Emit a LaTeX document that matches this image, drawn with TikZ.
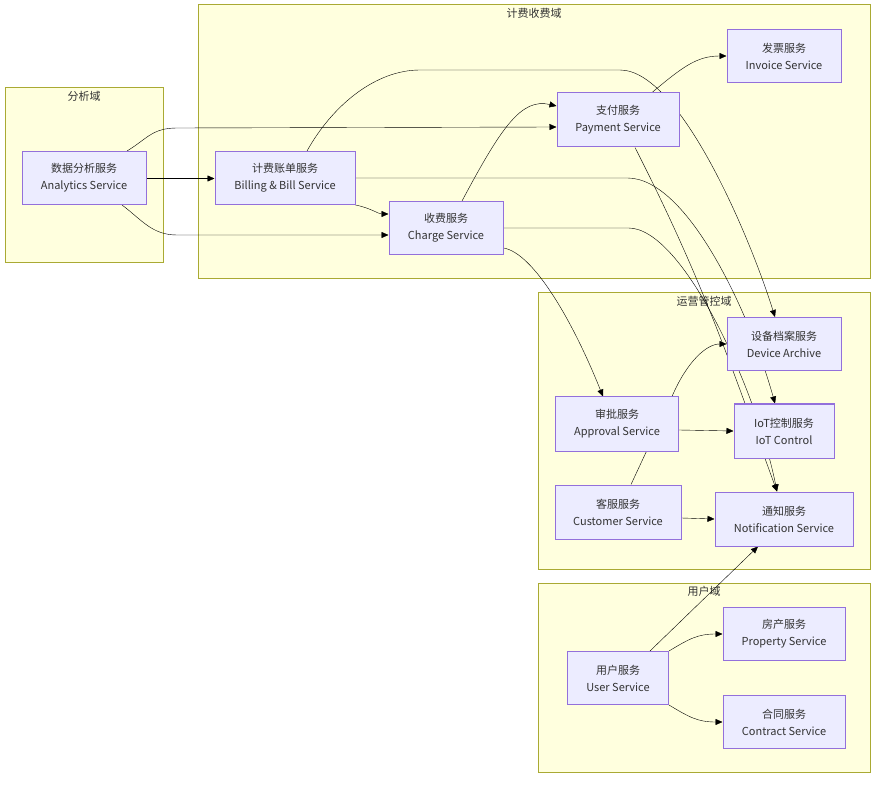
\documentclass[tikz,border=0pt]{standalone}
\usepackage{fontspec}
\setmainfont{Noto Sans CJK SC}
\usetikzlibrary{arrows.meta}
\definecolor{node_fill}{RGB}{236,236,255}
\definecolor{node_edge}{RGB}{147,112,219}
\definecolor{dom_fill}{RGB}{255,255,222}
\definecolor{dom_edge}{RGB}{170,170,51}
\definecolor{line_gray}{RGB}{51,51,51}
\pgfdeclarelayer{background}
\pgfdeclarelayer{edgelayer}
\pgfsetlayers{background,edgelayer,main}

\begin{document}
\begin{tikzpicture}[->,>={Triangle[length=7pt,width=6pt]},x=1pt,y=1pt,color=line_gray,line width=0.7pt]
    \tikzstyle{svc}=[draw=node_edge, fill=node_fill, rectangle, line width=1pt, minimum height=53pt, inner sep=0pt, align=center, text=line_gray, font=\fontsize{11}{17}\selectfont]
    \tikzstyle{dom}=[draw=dom_edge, fill=dom_fill, rectangle, line width=1pt, inner sep=0pt]
    \tikzstyle{domtitle}=[anchor=north, yshift=-2.5pt, inner sep=1pt, text=line_gray, font=\fontsize{11}{13}\selectfont]

    % services
    \node[svc, minimum width=124pt] (ana) at (84,-178) {数据分析服务\\Analytics Service};
    \node[svc, minimum width=140pt] (bil) at (285,-178) {计费账单服务\\Billing \& Bill Service};
    \node[svc, minimum width=114pt] (cha) at (446,-228) {收费服务\\Charge Service};
    \node[svc, minimum width=122pt, minimum height=54pt] (pay) at (618,-120) {支付服务\\Payment Service};
    \node[svc, minimum width=114pt] (inv) at (784,-56) {发票服务\\Invoice Service};
    \node[svc, minimum width=114pt] (dev) at (784,-344) {设备档案服务\\Device Archive};
    \node[svc, minimum width=123pt, minimum height=54pt] (apr) at (617,-424) {审批服务\\Approval Service};
    \node[svc, minimum width=100pt, minimum height=54pt] (iot) at (784,-431) {IoT控制服务\\IoT Control};
    \node[svc, minimum width=126pt, minimum height=54pt] (cus) at (618,-512) {客服服务\\Customer Service};
    \node[svc, minimum width=138pt, minimum height=54pt] (noti) at (784,-519) {通知服务\\Notification Service};
    \node[svc, minimum width=101pt] (usr) at (618,-678) {用户服务\\User Service};
    \node[svc, minimum width=122pt] (prop) at (784,-634) {房产服务\\Property Service};
    \node[svc, minimum width=122pt] (con) at (784,-722) {合同服务\\Contract Service};

    % domains
    \begin{pgfonlayer}{background}
    \path[-, fill=white, use as bounding box] (0,0) rectangle (884,-786);
    \node[dom, minimum width=158pt, minimum height=175pt, label={[domtitle]north:分析域}] (dAna) at (84,-175.5) {};
    \node[dom, minimum width=672pt, minimum height=274pt, label={[domtitle]north:计费收费域}] (dBill) at (534,-142) {};
    \node[dom, minimum width=332pt, minimum height=276pt, label={[domtitle]north:运营管控域}] (dOps) at (704,-431) {};
    \node[dom, minimum width=332pt, minimum height=189pt, label={[domtitle]north:用户域}] (dUsr) at (704,-677.5) {};
    \end{pgfonlayer}

    % calls
    \begin{pgfonlayer}{edgelayer}
    \path
     ([yshift=-0.5pt]ana.east) edge ([yshift=-0.5pt]bil.west)
     ([yshift=-6pt]apr.east) edge (iot.west)
     ([yshift=-6pt]cus.east) edge (noti.west)
     ([xshift=32pt]usr.north) edge ([xshift=-26pt]noti.south)
     ;
    \draw ([xshift=43pt]ana.north) .. controls +(20,12) and +(-25,0) .. ++(50,23) -- ([yshift=-7pt]pay.west);
    \draw ([xshift=38pt]ana.south) .. controls +(20,-15) and +(-25,0) .. ++(55,-30) -- ([yshift=-7pt]cha.west);
    \draw (bil.south east) .. controls +(15,-3) and +(-10,0) .. ([yshift=14pt]cha.west);
    \draw ([xshift=22pt]bil.north) .. controls +(25,45) and +(-45,0) .. ++(113,81) -- ++(200,0)
          .. controls +(60,0) and +(-25,80) .. ([xshift=-9pt]dev.north);
    \draw (bil.east) -- ++(272,0) .. controls +(60,0) and +(-25,90) .. ([xshift=-9pt]iot.north);
    \draw ([xshift=16pt]cha.north) .. controls +(40,75) and +(-35,8) .. ([yshift=14pt]pay.west);
    \draw ([xshift=34pt]pay.north) .. controls +(30,25) and +(-30,0) .. (inv.west);
    \draw ([xshift=17pt]pay.south) to[out=-63,in=110] ([xshift=-7pt]noti.north);
    \draw (cha.east) -- ++(125,0) .. controls +(55,0) and +(-20,100) .. ([xshift=-7pt]noti.north);
    \draw ([yshift=-20pt]cha.east) .. controls +(30,-5) and +(-30,75) .. ([xshift=-14pt]apr.north);
    \draw ([xshift=13pt]cus.north) -- ++(41,88) .. controls +(15,35) and +(-20,0) .. (dev.west);
    \draw (usr.north east) .. controls +(20,12) and +(-25,0) .. (prop.west);
    \draw (usr.south east) .. controls +(20,-12) and +(-25,0) .. (con.west);
    \end{pgfonlayer}
\end{tikzpicture}
\end{document}
